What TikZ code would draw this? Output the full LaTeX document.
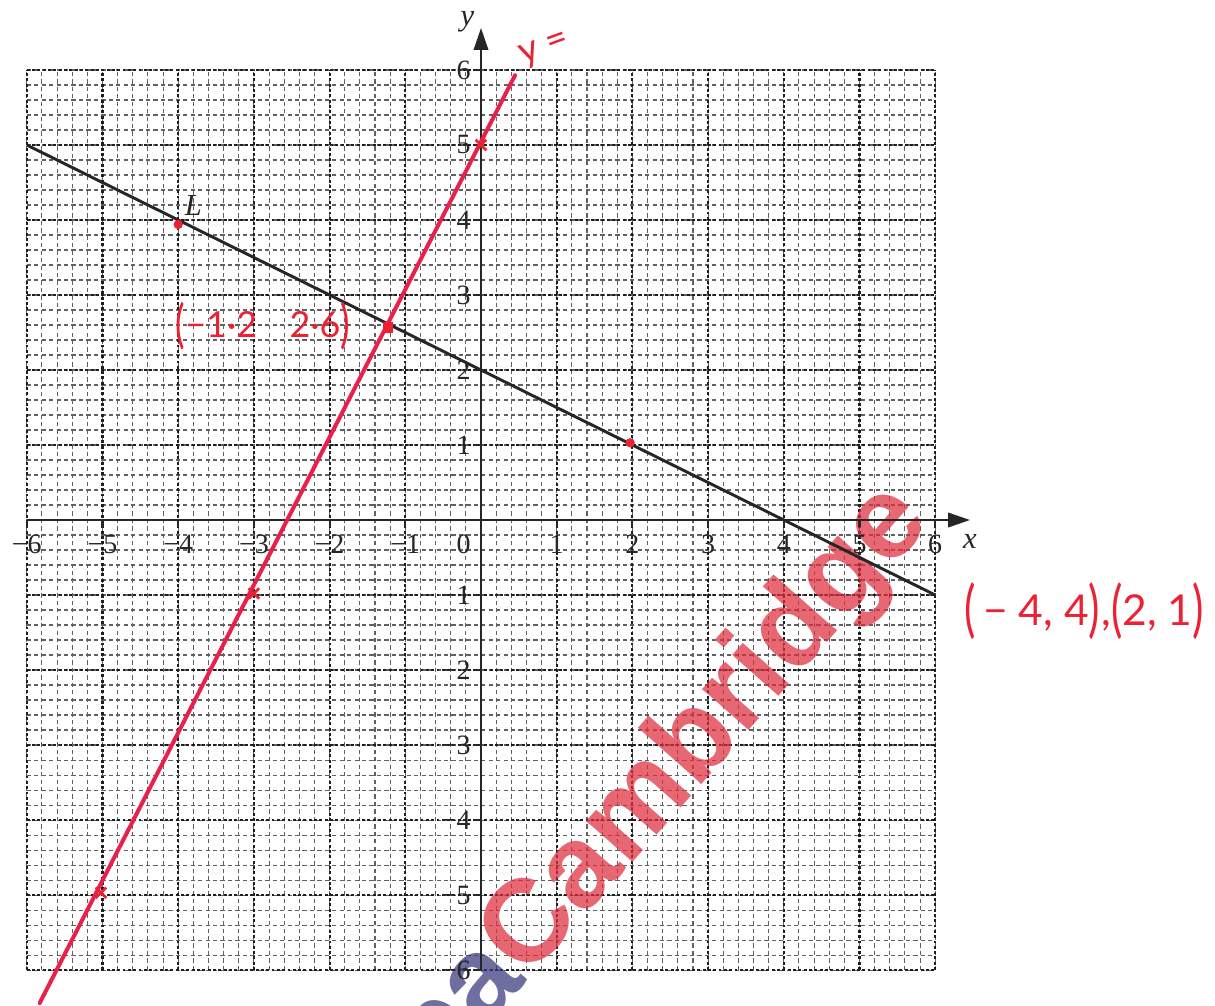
\documentclass[tikz,border=0pt]{standalone}
\usepackage{fontspec}
\usepackage{graphicx}
\setmainfont{Liberation Serif}
\newfontfamily\handfont{Lato}
\newfontfamily\wmfont{Liberation Sans}
\usetikzlibrary{arrows.meta}
\definecolor{penred}{RGB}{232,32,74}
\definecolor{inkred}{RGB}{236,34,52}
\definecolor{wmred}{RGB}{222,45,62}
\definecolor{wmblue}{RGB}{55,55,125}
\newcommand{\bigpar}[1]{\raisebox{-0.25ex}{\scalebox{1}[1.45]{#1}}}
\begin{document}
\begin{tikzpicture}[x=1cm,y=0.9908cm,
  minorgrid/.style={line width=0.4pt, black!62, dash pattern=on 1.6pt off 1.2pt},
  majorgrid/.style={line width=0.8pt, black!88, dash pattern=on 1.1pt off 0.9pt},
  axisline/.style={line width=0.9pt, black!85, -{Triangle[length=0.29cm,width=0.19cm]}},
  tickline/.style={line width=0.8pt, black!85},
  numlab/.style={font=\fontsize{10.5}{12}\selectfont, inner sep=0pt, text=black!85},
  varlab/.style={font=\fontsize{11.5}{13}\selectfont\itshape, inner sep=0pt, text=black!85},
  penline/.style={penred, line width=1.5pt, line cap=round},
  crossmark/.style={inkred, line width=1pt},
  dotmark/.style={circle, fill=inkred, inner sep=0pt, minimum size=3.5pt},
  hand/.style={inkred, font=\handfont\fontsize{14}{16}\selectfont, inner sep=0pt},
  wmark/.style={font=\wmfont\bfseries\fontsize{44}{46}\selectfont, inner sep=0pt, outer sep=0pt, rotate=48.5, opacity=0.72}
]
\useasboundingbox (-6.354,-6.467) rectangle (9.696,6.933);
\fill[white] (-6.354,-6.467) rectangle (9.696,6.933);

% grid
\foreach \i in {-30,...,30} {
  \pgfmathsetmacro\v{\i/5}
  \draw[minorgrid] (\v,-6) -- (\v,6);
  \draw[minorgrid] (-6,\v) -- (6,\v);
}
\foreach \i in {-6,...,6} {
  \draw[majorgrid] (\i,-6) -- (\i,6);
  \draw[majorgrid] (-6,\i) -- (6,\i);
}

% watermark
\begin{scope}
  \clip (-6.354,-6.467) rectangle (9.696,6.933);
  \node[wmark, text=wmred, anchor=base west] (wmC) at (0.62,-6.14) {Cambridge};
  \node[wmark, text=wmblue, anchor=base east] (wmP) at (0.62,-6.14) {Papa};
\end{scope}

% axes
\coordinate (xs) at (-6,0);
\coordinate (xe) at (6.46,0);
\coordinate (ys) at (0,-6);
\coordinate (ye) at (0,6.56);
\draw[axisline] (xs) -- (xe);
\draw[axisline] (ys) -- (ye);
\node[varlab] (xlab) at (6.46,-0.29) {x};
\node[varlab] (ylab) at (-0.18,6.64) {y};

% ticks and labels
\foreach \k in {-6,...,6} {
  \draw[tickline] (\k,0) -- (\k,-0.09);
  \draw[tickline] (0,\k) -- (-0.1,\k);
}
\foreach \k in {1,...,6} {
  \node[numlab, anchor=north] (xp\k) at (\k,-0.19) {\k};
  \node[numlab, anchor=north] (xn\k) at (-\k,-0.19) {−\k};
  \node[numlab, anchor=east] (yp\k) at (-0.13,\k) {\k};
  \node[numlab, anchor=east] (yn\k) at (-0.13,-\k) {−\k};
}
\node[numlab] (olab) at (-0.23,-0.33) {0};

% line L
\coordinate (L1) at (-6,5);
\coordinate (L2) at (6,-1);
\draw[line width=1.1pt, black!85] (L1) -- (L2);
\node[varlab] (Llab) at (-3.8,4.19) {L};

% red line
\coordinate (R1) at (-5.83,-6.44);
\coordinate (R2) at (0.45,5.93);
\draw[penline] (R1) -- (R2);

% red marks
\foreach \p/\q in {0/5,-5.02/-4.97,-3/-0.98} {
  \draw[crossmark] (\p-0.07,\q-0.07) -- (\p+0.07,\q+0.07);
  \draw[crossmark] (\p-0.07,\q+0.07) -- (\p+0.07,\q-0.07);
}
\node[dotmark] (m1) at (-4,3.94) {};
\node[dotmark] (m2) at (1.97,1.03) {};
\node[dotmark, rectangle, minimum size=4pt] (m3) at (-1.23,2.57) {};

% handwritten text
\node[hand, rotate=20] (yeq) at (0.85,6.27) {y =};
\node[hand, font=\handfont\fontsize{13.5}{16}\selectfont] (inter) at (-2.88,2.59) {\bigpar{(}−1·2\hspace{0.9em}2·6\bigpar{)}};
\node[hand, font=\handfont\fontsize{16}{18}\selectfont] (pts) at (7.97,-1.22) {\bigpar{(}\,− 4, 4\bigpar{)}\kern0.5pt,\bigpar{(}2, 1\bigpar{)}};
\end{tikzpicture}
\end{document}
